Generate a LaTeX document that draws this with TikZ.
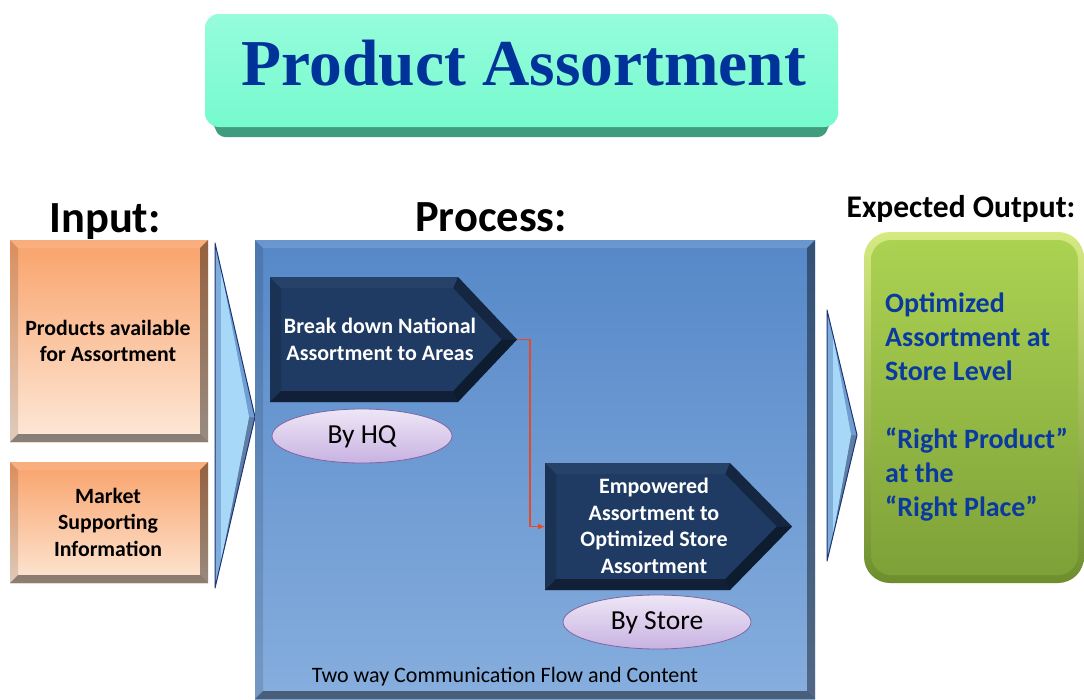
\documentclass[tikz,border=0pt]{standalone}
\usepackage{fontspec}
\setmainfont{Carlito}
\newfontfamily\titlefont{Liberation Serif}
\usetikzlibrary{arrows.meta,calc}
\definecolor{titleblue}{RGB}{0,51,153}
\definecolor{outblue}{RGB}{10,58,160}
\definecolor{navy}{RGB}{31,59,99}
\definecolor{redline}{RGB}{226,74,42}
\definecolor{arrnavy}{RGB}{30,52,120}
\definecolor{titleband}{RGB}{64,156,126}
\definecolor{titletop}{RGB}{150,252,220}
\definecolor{titlebot}{RGB}{118,250,206}
\definecolor{intop}{RGB}{249,162,106}
\definecolor{inbot}{RGB}{253,233,217}
\definecolor{inbotb}{RGB}{253,230,212}
\definecolor{proctop}{RGB}{86,136,200}
\definecolor{procbot}{RGB}{134,174,222}
\definecolor{arrmid}{RGB}{128,174,220}
\definecolor{arrdark}{RGB}{94,127,163}
\definecolor{arrup}{RGB}{112,158,208}
\definecolor{arrlight}{RGB}{168,216,248}
\definecolor{ovaldraw}{RGB}{128,100,162}
\definecolor{ovaltop}{RGB}{238,231,246}
\definecolor{ovalbot}{RGB}{200,178,226}
\definecolor{outrimtop}{RGB}{214,234,130}
\definecolor{outrimbot}{RGB}{110,142,46}
\definecolor{outtop}{RGB}{172,210,82}
\definecolor{outbot}{RGB}{126,161,56}
% bevelled rectangle: x1 y1 x2 y2 w
\newcommand\bevrect[5]{%
  \fill[white,fill opacity=0.12] (#1,#2) -- (#3,#2) -- ({#3-#5},{#2+#5}) -- ({#1+#5},{#2+#5}) -- cycle;
  \fill[black,fill opacity=0.12] (#1,#2) -- ({#1+#5},{#2+#5}) -- ({#1+#5},{#4-#5}) -- (#1,#4) -- cycle;
  \fill[black,fill opacity=0.40] (#3,#2) -- ({#3-#5},{#2+#5}) -- ({#3-#5},{#4-#5}) -- (#3,#4) -- cycle;
  \fill[black,fill opacity=0.45] (#1,#4) -- (#3,#4) -- ({#3-#5},{#4-#5}) -- ({#1+#5},{#4-#5}) -- cycle;
}
% bevelled chevron: x1 y1 xs xt y2 w
\newcommand\bevchev[6]{%
  \fill[navy] (#1,#2) -- (#3,#2) -- (#4,{(#2+#5)/2}) -- (#3,#5) -- (#1,#5) -- cycle;
  \fill[white,fill opacity=0.04] (#1,#2) -- (#3,#2) -- ({#3-0.43*#6},{#2+#6}) -- ({#1+#6},{#2+#6}) -- cycle;
  \fill[black,fill opacity=0.15] (#1,#2) -- ({#1+#6},{#2+#6}) -- ({#1+#6},{#5-#6}) -- (#1,#5) -- cycle;
  \fill[black,fill opacity=0.35] (#3,#2) -- (#4,{(#2+#5)/2}) -- ({#4-1.38*#6},{(#2+#5)/2}) -- ({#3-0.43*#6},{#2+#6}) -- cycle;
  \fill[black,fill opacity=0.52] (#3,#5) -- (#4,{(#2+#5)/2}) -- ({#4-1.38*#6},{(#2+#5)/2}) -- ({#3-0.43*#6},{#5-#6}) -- cycle;
  \fill[black,fill opacity=0.45] (#1,#5) -- (#3,#5) -- ({#3-0.43*#6},{#5-#6}) -- ({#1+#6},{#5-#6}) -- cycle;
}
% thin arrow: x1 ytop xt ym ybot
\newcommand\thinarrow[5]{%
  \fill[arrmid] (#1,#2) -- (#3,#4) -- (#1,#5) -- cycle;
  \fill[arrdark] (#3,#4) -- (#1,#5) -- ({#1+6},{#5-26}) -- ({#3-6},#4) -- cycle;
  \fill[arrup] (#3,#4) -- (#1,#2) -- ({#1+6},{#2+26}) -- ({#3-6},#4) -- cycle;
  \fill[arrlight] ({#1+6},{#2+26}) -- ({#3-6},#4) -- ({#1+6},{#5-26}) -- cycle;
  \draw[arrnavy,line width=1pt,line join=round] (#1,#2) -- (#3,#4) -- (#1,#5) -- cycle;
}
\tikzset{
  boxtext/.style={font=\bfseries\fontsize{21.8}{26.5}\selectfont,align=center,text=black},
  chevtext/.style={font=\bfseries\fontsize{22}{26.7}\selectfont,align=center,text=white},
  heading/.style={font=\bfseries\fontsize{44.5}{50}\selectfont,anchor=base,text=black},
  oval/.style={draw=ovaldraw,line width=0.8pt,top color=ovaltop,bottom color=ovalbot},
  ovaltext/.style={font=\fontsize{27.5}{32}\selectfont,text=black},
  conn/.style={draw=redline,line width=1.1pt,-{Latex[length=7pt,width=6pt]}}
}
\begin{document}
\begin{tikzpicture}[x=1pt,y=-1pt]
\useasboundingbox (0,0) rectangle (1084,699);
\fill[white] (0,0) rectangle (1084,699);

% ---------- title ----------
\fill[titleband,rounded corners=6] (207,110) -- (836,110) -- (824,137) -- (219,137) -- cycle;
\shade[rounded corners=14,top color=titletop,bottom color=titlebot]
  (205,14) rectangle (838,127);
\node[font=\titlefont\bfseries\fontsize{65.5}{70}\selectfont,text=titleblue,anchor=base] (title) at (524,85) {Product Assortment};

% ---------- headings ----------
\node[heading] (hin) at (105,232) {Input:};
\node[heading] (hproc) at (491,231) {Process:};
\node[heading,font=\bfseries\fontsize{31.5}{34}\selectfont] (hout) at (961,217) {Expected Output:};

% ---------- input boxes ----------
\shade[top color=intop,bottom color=inbot] (10,240) rectangle (208,442);
\bevrect{10}{240}{208}{442}{8}
\node[boxtext] (in1) at (108,341) {Products available\\for Assortment};
\shade[top color=intop,bottom color=inbotb] (10,462) rectangle (208,583);
\bevrect{10}{462}{208}{583}{8}
\node[boxtext] (in2) at (108,522) {Market\\Supporting\\Information};

\thinarrow{215}{243}{255}{417}{588}

% ---------- process box ----------
\shade[top color=proctop,bottom color=procbot] (255,240) rectangle (815,699);
\bevrect{255}{240}{815}{699}{8}

\bevchev{270}{277}{458}{517}{402}{11}
\node[chevtext] (c1) at (380,339) {Break down National\\Assortment to Areas};
\coordinate (c1tip) at (517,339.5);

\bevchev{545}{463}{730}{792}{590}{11}
\node[chevtext] (c2) at (654,526) {Empowered\\Assortment to\\Optimized Store\\Assortment};
\coordinate (c2left) at (545,526.5);

\draw[conn] (c1tip) -- (530,339.5) |- (c2left);

\shade[oval] (362,436) ellipse (90 and 27);
\node[ovaltext] (hq) at (362,437) {By HQ};
\shade[oval] (657,622) ellipse (94 and 27);
\node[ovaltext] (store) at (657,623) {By Store};

\node[font=\fontsize{22}{25}\selectfont,text=black] (comm) at (505,677) {Two way Communication Flow and Content};

\thinarrow{827}{310}{857}{435}{561}

% ---------- output box ----------
\shade[rounded corners=26,top color=outrimtop,bottom color=outrimbot] (864,232) rectangle (1084,583);
\shade[rounded corners=20,top color=outtop,bottom color=outbot] (871,240) rectangle (1078,575);
\node[font=\bfseries\fontsize{28}{34}\selectfont,text=outblue,align=left,anchor=west,inner sep=0pt] (out) at (885,407)
  {Optimized\\Assortment at\\Store Level\\[34pt]“Right Product”\\at the\\“Right Place”};
\end{tikzpicture}
\end{document}
